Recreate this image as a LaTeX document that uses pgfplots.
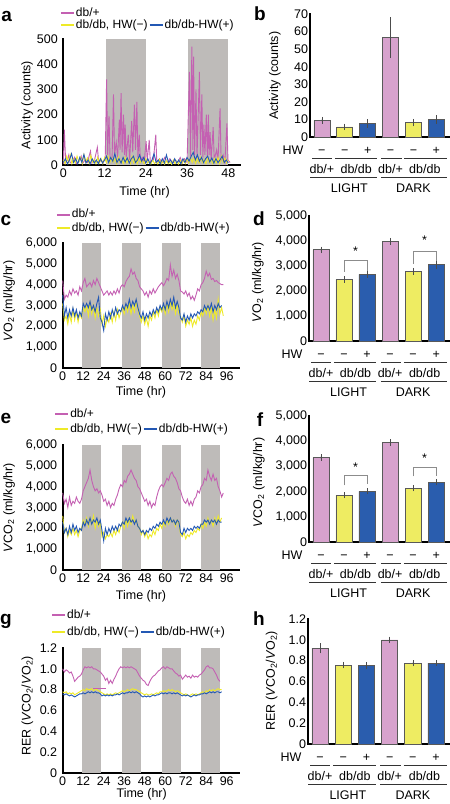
\documentclass[border=0pt]{standalone}
\usepackage{fontspec}
\setmainfont{Liberation Sans}
\usepackage{pgfplots}
\pgfplotsset{compat=1.18}

\definecolor{pinkl}{RGB}{196,96,178}
\definecolor{yell}{RGB}{238,234,40}
\definecolor{bluel}{RGB}{35,88,180}
\definecolor{pinkb}{RGB}{215,162,205}
\definecolor{yelb}{RGB}{238,236,98}
\definecolor{blueb}{RGB}{42,93,174}
\definecolor{shade}{RGB}{190,187,185}

\newcommand{\fs}{\fontsize{12.5}{15}\selectfont}
\newcommand{\sub}[1]{\textsubscript{#1}}

\pgfplotsset{
 /pgf/number format/assume math mode=true,
 /pgf/number format/1000 sep={,},
 base/.style={scale only axis, axis lines=left, axis line style={-, line width=1.7pt, line cap=rect},
   major tick length=0pt, tick label style={font=\fs}, label style={font=\fs}, clip=false, ymin=0},
 tseries/.style={base, xmin=0, xmax=103, width=176pt, height=125pt, xtick={0,12,...,96},
   yticklabel style={xshift=-2pt}, legend columns=2, legend cell align=left,
   legend style={draw=none, fill=none, font=\fontsize{12}{14}\selectfont, inner sep=0pt, column sep=0pt,
     anchor=north west},
   legend image code/.code={\draw[##1] (0pt,0pt) -- (13pt,0pt);}},
 lrow/.style n args={2}{legend style={nodes={inner sep=1pt, text height=#1, text depth=#2}}},
 bars/.style={base, xmin=-0.52, xmax=5.6, xtick={0,...,5}, xticklabels={−,−,+,−,−,+},
   xticklabel style={anchor=base, yshift=-17pt}, yticklabel style={xshift=1.5pt}, ybar,
   error bars/y dir=both, error bars/y explicit,
   error bars/error bar style={black!70, line width=0.6pt},
   error bars/error mark options={black!70, mark size=2pt, line width=0.6pt}},
 pl/.style={color=pinkl, line width=0.9pt, mark=none},
 yl/.style={color=yell, line width=0.9pt, mark=none},
 bl/.style={color=bluel, line width=0.9pt, mark=none},
 sh/.style={fill=shade, draw=none, forget plot},
 bp/.style={bar width=0.7, bar shift=0pt, draw=black!65, line width=0.6pt},
}

\newcommand{\barannot}{%
 \node[anchor=base east, font=\fs] at ([xshift=-3pt,yshift=-17pt]rel axis cs:0,0) {HW};
 \draw[line width=0.8pt, black!80] ([yshift=-21.5pt]axis cs:-0.43,0) -- ([yshift=-21.5pt]axis cs:0.43,0);
 \draw[line width=0.8pt, black!80] ([yshift=-21.5pt]axis cs:0.57,0) -- ([yshift=-21.5pt]axis cs:2.39,0);
 \draw[line width=0.8pt, black!80] ([yshift=-21.5pt]axis cs:2.6,0) -- ([yshift=-21.5pt]axis cs:3.48,0);
 \draw[line width=0.8pt, black!80] ([yshift=-21.5pt]axis cs:3.6,0) -- ([yshift=-21.5pt]axis cs:5.48,0);
 \node[anchor=base, font=\fs] at ([yshift=-36pt]axis cs:0,0) {db/+};
 \node[anchor=base, font=\fs] at ([yshift=-36pt]axis cs:1.5,0) {db/db};
 \node[anchor=base, font=\fs] at ([yshift=-36pt]axis cs:3,0) {db/+};
 \node[anchor=base, font=\fs] at ([yshift=-36pt]axis cs:4.5,0) {db/db};
 \draw[line width=0.8pt, black!80] ([yshift=-40pt]axis cs:-0.52,0) -- ([yshift=-40pt]axis cs:2.39,0);
 \draw[line width=0.8pt, black!80] ([yshift=-40pt]axis cs:2.6,0) -- ([yshift=-40pt]axis cs:5.48,0);
 \node[anchor=base, font=\fs] at ([yshift=-55pt]axis cs:1.2,0) {LIGHT};
 \node[anchor=base, font=\fs] at ([yshift=-55pt]axis cs:4,0) {DARK};
}
\newcommand{\legs}{%
 \addlegendimage{draw=pinkl, line width=2pt}\addlegendentry{db/+}
 \addlegendimage{empty legend}\addlegendentry{}
 \addlegendimage{draw=yell, line width=2pt}\addlegendentry{db/db, HW(−)}
 \addlegendimage{draw=bluel, line width=2pt}\addlegendentry{db/db-HW(+)}
}

\begin{document}
\begin{tikzpicture}
\useasboundingbox (0,0) rectangle (450pt,-804pt);

% ---------------- a ----------------
\begin{axis}[tseries, at={(63.3pt,-165pt)}, anchor=south west, width=176.7pt, height=126pt,
  xmax=51.4, ymax=500, xtick={0,12,24,36,48}, ytick={0,100,...,500},
  ylabel={Activity (counts)}, xlabel={Time (hr)},
  ylabel style={at={(axis description cs:-0.205,0.476)}, anchor=center},
  xlabel style={at={(axis description cs:0.46,0)}, anchor=base, yshift=-30.7pt},
  lrow={8pt}{2pt}, legend style={at={(axis description cs:-0.02,1.252)}}]
\addplot[sh] coordinates {(12.3,500)(24,500)} \closedcycle;
\addplot[sh] coordinates {(36.3,500)(48,500)} \closedcycle;
\addplot[pl, forget plot] coordinates {(0,5)(0.3,140)(0.7,10)(1.2,20)(1.6,40)(2,8)(2.8,15)(3.3,30)(3.8,5)(4.5,12)(5.2,35)(5.6,6)(6.3,20)(7,10)(7.9,55)(8.3,8)(9,15)(9.9,70)(10.3,10)(11,20)(11.6,8)(12.2,30)(12.6,340)(12.9,40)(13.3,195)(13.6,25)(14.2,30)(14.6,280)(14.9,40)(15.4,90)(15.8,30)(16.3,180)(16.5,60)(16.8,285)(17.1,50)(17.5,200)(17.8,40)(18,160)(18.3,30)(18.9,120)(19.3,20)(19.9,175)(20.2,50)(20.7,240)(21,60)(21.4,250)(21.7,30)(22.1,120)(22.4,20)(23,30)(23.5,10)(24.1,95)(24.4,15)(25,100)(25.3,12)(26.2,20)(26.9,120)(27.2,10)(28,25)(28.7,8)(29.5,30)(30.3,10)(31,25)(31.8,8)(32.5,20)(33.3,10)(34,30)(34.6,8)(35.3,25)(36,10)(36.7,370)(37,30)(37.4,470)(37.7,60)(37.9,430)(38.2,40)(38.6,300)(38.9,30)(39.6,370)(39.9,40)(40.3,280)(40.6,30)(40.9,160)(41.2,40)(41.6,200)(41.9,30)(42.2,200)(42.4,40)(42.7,130)(43,20)(43.6,150)(43.9,20)(44.6,60)(45,15)(45.6,225)(45.9,20)(46.5,40)(47,10)(47.6,165)(47.9,20)(48.5,10)};
\addplot[yl, forget plot] coordinates {(0,20)(0.5,5)(1,35)(1.5,10)(2,40)(2.5,5)(3,25)(3.5,8)(4,35)(4.5,12)(5,30)(5.5,5)(6,40)(6.5,10)(7,28)(7.5,6)(8,38)(8.5,10)(9,22)(9.5,5)(10,30)(10.5,8)(11,25)(11.5,5)(12,30)(12.5,10)(13,35)(13.5,8)(14,28)(14.5,12)(15,25)(15.5,5)(16,32)(16.5,10)(17,20)(17.5,6)(18,30)(18.5,8)(19,22)(19.5,5)(20,35)(20.5,8)(21,25)(21.5,5)(22,30)(22.5,10)(23,20)(23.5,5)(24,25)(24.5,8)(25,15)(25.5,4)(26,20)(26.5,6)(27,12)(27.5,4)(28,22)(28.5,5)(29,15)(29.5,3)(30,18)(30.5,5)(31,12)(31.5,3)(32,20)(32.5,5)(33,15)(33.5,4)(34,20)(34.5,5)(35,22)(35.5,6)(36,25)(36.5,8)(37,30)(37.5,10)(38,28)(38.5,6)(39,25)(39.5,8)(40,30)(40.5,10)(41,22)(41.5,5)(42,28)(42.5,8)(43,20)(43.5,5)(44,25)(44.5,8)(45,30)(45.5,6)(46,35)(46.5,10)(47,28)(47.5,8)(48,20)};
\addplot[bl, forget plot] coordinates {(0,10)(0.6,25)(1.2,5)(1.8,20)(2.4,45)(3,10)(3.6,25)(4.2,5)(4.8,30)(5.4,10)(6,42)(6.6,8)(7.2,20)(7.8,5)(8.4,25)(9,8)(9.6,20)(10.2,5)(10.8,25)(11.4,8)(12,20)(12.6,35)(13.2,10)(13.8,30)(14.4,15)(15,45)(15.6,10)(16.2,25)(16.8,8)(17.4,30)(18,12)(18.6,28)(19.2,8)(19.8,25)(20.4,35)(21,10)(21.6,20)(22.2,40)(22.8,15)(23.4,30)(24,8)(24.6,25)(25.2,5)(25.8,20)(26.4,45)(27,10)(27.6,20)(28.2,5)(28.8,25)(29.4,8)(30,40)(30.6,10)(31.2,20)(31.8,5)(32.4,25)(33,8)(33.6,20)(34.2,5)(34.8,25)(35.4,10)(36,30)(36.6,15)(37.2,35)(37.8,50)(38.4,20)(39,40)(39.6,15)(40.2,30)(40.8,10)(41.4,25)(42,35)(42.6,12)(43.2,28)(43.8,8)(44.4,25)(45,10)(45.6,20)(46.2,35)(46.8,10)(47.4,20)(48,8)};
\legs
\end{axis}

% ---------------- b ----------------
\begin{axis}[bars, at={(310pt,-137pt)}, anchor=south west, width=140pt, height=123pt,
  ymax=70, ytick={0,10,...,70}, ylabel={Activity (counts)},
  ylabel style={at={(axis description cs:-0.25,0.498)}, anchor=center}]
\addplot[bp, fill=pinkb] coordinates {(0,9.5) +- (0,0.8) (3,56.5) +- (0,10.5)};
\addplot[bp, fill=yelb] coordinates {(1,5.8) +- (0,0.7) (4,8.2) +- (0,1.0)};
\addplot[bp, fill=blueb] coordinates {(2,7.7) +- (0,1.2) (5,9.9) +- (0,1.3)};
\barannot
\end{axis}

% ---------------- c ----------------
\begin{axis}[tseries, at={(62.7pt,-368pt)}, anchor=south west,
  ymax=6000, ytick={0,1000,...,6000},
  ylabel={\textit{V}O\sub{2} (ml/kg/hr)}, xlabel={Time (hr)},
  ylabel style={at={(axis description cs:-0.305,0.536)}, anchor=center},
  xlabel style={at={(axis description cs:0.445,0)}, anchor=base, yshift=-27.7pt},
  lrow={9pt}{2.4pt}, legend style={at={(axis description cs:-0.040,1.283)}}]
\addplot[sh] coordinates {(11.4,6000)(22.7,6000)} \closedcycle;
\addplot[sh] coordinates {(34.7,6000)(46,6000)} \closedcycle;
\addplot[sh] coordinates {(58,6000)(69.3,6000)} \closedcycle;
\addplot[sh] coordinates {(81,6000)(92.2,6000)} \closedcycle;
\addplot[pl, forget plot] coordinates {(0,4200)(1,3300)(2,3500)(3,3400)(4,3700)(5,3500)(6,3800)(7,3600)(8,3700)(9,3500)(10,3900)(11,3700)(12,4100)(13,4300)(14,3900)(15,4000)(16,4100)(17,3900)(18,4200)(19,4000)(20,4300)(21,4100)(22,3900)(23,3700)(24,3500)(25,3600)(26,3700)(27,3500)(28,3650)(29,3500)(30,3700)(31,3550)(32,3800)(33,3600)(34,3900)(35,4000)(36,3900)(37,4150)(38,4300)(39,4400)(40,4750)(41,4500)(42,4600)(43,4300)(44,4200)(45,3900)(46,3800)(47,3700)(48,3500)(49,3650)(50,3400)(51,3700)(52,3550)(53,3800)(54,3600)(55,3750)(56,3900)(57,4000)(58,4100)(59,3950)(60,4100)(61,4300)(62,4200)(63,4950)(64,4400)(65,4700)(66,4300)(67,4500)(68,4200)(69,3700)(70,3650)(71,3550)(72,3700)(73,3450)(74,3600)(75,3300)(76,3450)(77,3250)(78,3500)(79,3800)(80,3700)(81,4000)(82,4100)(83,4300)(84,4650)(85,4400)(86,4550)(87,4250)(88,4300)(89,4150)(90,4200)(91,4100)(92,4050)(93,4000)(94,4000)};
\addplot[yl, forget plot] coordinates {(0,3100)(1,2300)(2,2500)(3,2100)(4,2600)(5,2200)(6,2800)(7,2300)(8,2700)(9,2200)(10,2600)(11,2400)(12,2900)(13,2700)(14,3000)(15,2500)(16,3100)(17,2600)(18,3000)(19,2400)(20,2900)(21,2500)(22,2800)(23,2100)(24,2500)(25,2000)(26,2400)(27,2200)(28,2600)(29,2200)(30,2700)(31,2300)(32,2800)(33,2400)(34,2700)(35,2900)(36,2600)(37,3000)(38,2700)(39,3100)(40,2600)(41,3000)(42,2700)(43,3200)(44,2800)(45,2500)(46,2200)(47,2500)(48,2100)(49,2400)(50,2000)(51,2500)(52,2300)(53,2700)(54,2400)(55,2800)(56,2500)(57,2900)(58,2700)(59,3000)(60,2600)(61,3100)(62,2700)(63,3200)(64,2800)(65,3100)(66,2600)(67,3000)(68,2600)(69,2500)(70,2200)(71,2500)(72,2000)(73,2300)(74,2100)(75,2400)(76,2000)(77,2300)(78,2100)(79,2500)(80,2300)(81,2700)(82,2500)(83,2900)(84,2600)(85,3000)(86,2500)(87,2900)(88,2300)(89,2800)(90,2400)(91,3300)(92,2600)(93,2900)(94,2500)};
\addplot[bl, forget plot] coordinates {(0,3500)(1,2500)(2,2900)(3,2400)(4,2800)(5,2500)(6,2900)(7,2500)(8,2800)(9,2400)(10,2700)(11,2500)(12,3100)(13,2900)(14,3100)(15,2900)(16,3200)(17,2800)(18,3000)(19,2700)(20,3100)(21,3400)(22,2400)(23,2200)(24,1800)(25,2600)(26,2300)(27,2700)(28,2400)(29,2800)(30,2500)(31,2900)(32,2600)(33,2800)(34,2700)(35,3000)(36,2800)(37,3100)(38,2900)(39,3300)(40,2900)(41,3200)(42,3000)(43,3300)(44,2900)(45,2600)(46,2400)(47,2700)(48,2300)(49,2600)(50,2400)(51,2700)(52,2500)(53,2800)(54,2600)(55,2900)(56,2700)(57,3000)(58,2800)(59,3100)(60,2800)(61,3200)(62,2900)(63,3300)(64,3000)(65,3400)(66,2900)(67,3200)(68,2900)(69,2400)(70,2300)(71,2600)(72,2200)(73,2500)(74,2300)(75,2600)(76,2400)(77,2600)(78,2500)(79,2700)(80,2600)(81,2800)(82,2700)(83,3000)(84,2800)(85,3000)(86,2800)(87,3100)(88,2700)(89,3000)(90,2800)(91,3100)(92,2900)(93,3000)};
\legs
\end{axis}

% ---------------- d ----------------
\begin{axis}[bars, at={(309pt,-341pt)}, anchor=south west, width=141pt, height=125pt,
  ymax=5000, ytick={0,1000,...,5000}, ylabel={\textit{V}O\sub{2} (ml/kg/hr)},
  ylabel style={at={(axis description cs:-0.362,0.468)}, anchor=center}]
\addplot[bp, fill=pinkb] coordinates {(0,3650) +- (0,50) (3,3990) +- (0,60)};
\addplot[bp, fill=yelb] coordinates {(1,2470) +- (0,60) (4,2790) +- (0,60)};
\addplot[bp, fill=blueb] coordinates {(2,2670) +- (0,50) (5,3050) +- (0,70)};
\draw[black!45, line width=0.7pt] (axis cs:1,2780) -- (axis cs:1,3230) -- (axis cs:2,3230) -- (axis cs:2,2800);
\draw[black!45, line width=0.7pt] (axis cs:4,3100) -- (axis cs:4,3600) -- (axis cs:5,3600) -- (axis cs:5,3200);
\node[font=\fs, yshift=-2.5pt] at (axis cs:1.5,3700) {*};
\node[font=\fs, yshift=-2.5pt] at (axis cs:4.5,4130) {*};
\barannot
\end{axis}

% ---------------- e ----------------
\begin{axis}[tseries, at={(62.7pt,-570pt)}, anchor=south west,
  ymax=6000, ytick={0,1000,...,6000},
  ylabel={\textit{V}CO\sub{2} (ml/kg/hr)}, xlabel={Time (hr)},
  ylabel style={at={(axis description cs:-0.305,0.496)}, anchor=center},
  xlabel style={at={(axis description cs:0.445,0)}, anchor=base, yshift=-29pt},
  lrow={10pt}{3pt}, legend style={at={(axis description cs:-0.049,1.307)}}]
\addplot[sh] coordinates {(11.4,6000)(22.7,6000)} \closedcycle;
\addplot[sh] coordinates {(34.7,6000)(46,6000)} \closedcycle;
\addplot[sh] coordinates {(58,6000)(69.3,6000)} \closedcycle;
\addplot[sh] coordinates {(81,6000)(92.2,6000)} \closedcycle;
\addplot[pl, forget plot] coordinates {(0,3700)(1,3200)(2,3400)(3,3000)(4,3500)(5,3100)(6,3300)(7,3200)(8,3500)(9,3300)(10,3200)(11,3400)(12,3800)(13,4000)(14,4200)(15,4400)(16,4800)(17,4300)(18,4000)(19,3800)(20,3900)(21,3700)(22,3800)(23,3600)(24,3300)(25,3400)(26,3100)(27,3300)(28,3000)(29,3200)(30,3100)(31,3400)(32,3600)(33,3900)(34,4100)(35,4000)(36,4300)(37,4200)(38,4500)(39,4600)(40,4800)(41,4600)(42,4400)(43,4300)(44,4000)(45,3900)(46,3700)(47,3500)(48,3300)(49,3400)(50,3100)(51,3300)(52,3000)(53,3200)(54,3100)(55,3500)(56,3800)(57,4000)(58,4100)(59,4000)(60,4200)(61,4400)(62,4300)(63,4600)(64,4700)(65,4500)(66,4400)(67,4200)(68,3900)(69,3800)(70,3500)(71,3300)(72,3200)(73,3400)(74,3100)(75,3300)(76,3100)(77,3400)(78,3500)(79,3800)(80,3700)(81,4000)(82,4100)(83,4400)(84,4300)(85,4800)(86,4500)(87,4300)(88,4600)(89,4300)(90,4400)(91,4000)(92,3800)(93,3500)(94,3700)};
\addplot[yl, forget plot] coordinates {(0,2600)(1,1800)(2,2000)(3,1600)(4,1900)(5,1700)(6,2000)(7,1700)(8,1900)(9,1600)(10,1900)(11,2000)(12,2400)(13,2200)(14,2500)(15,2100)(16,2500)(17,2200)(18,2600)(19,2000)(20,2400)(21,2100)(22,2300)(23,1600)(24,1800)(25,1500)(26,1700)(27,1600)(28,1800)(29,1600)(30,1900)(31,1700)(32,2000)(33,1800)(34,2100)(35,2300)(36,2000)(37,2400)(38,2100)(39,2500)(40,2200)(41,2600)(42,2300)(43,2400)(44,2100)(45,2000)(46,1700)(47,1900)(48,1600)(49,1800)(50,1500)(51,1700)(52,1600)(53,1900)(54,1700)(55,2000)(56,1900)(57,2200)(58,2000)(59,2300)(60,2100)(61,2400)(62,2200)(63,2500)(64,2300)(65,2400)(66,2100)(67,2400)(68,2200)(69,1700)(70,1600)(71,1800)(72,1500)(73,1700)(74,1600)(75,1800)(76,1700)(77,1900)(78,1800)(79,2000)(80,1900)(81,2200)(82,2000)(83,2300)(84,2100)(85,2500)(86,2200)(87,2400)(88,2100)(89,2500)(90,2200)(91,2600)(92,2300)(93,2500)};
\addplot[bl, forget plot] coordinates {(0,2300)(1,1800)(2,2000)(3,1700)(4,2100)(5,1800)(6,2200)(7,1900)(8,2100)(9,1800)(10,2000)(11,1900)(12,2300)(13,2100)(14,2400)(15,2200)(16,2500)(17,2200)(18,2400)(19,2300)(20,2500)(21,2200)(22,2400)(23,1900)(24,1400)(25,2000)(26,1700)(27,2000)(28,1800)(29,2100)(30,1900)(31,2100)(32,1900)(33,2200)(34,2100)(35,2300)(36,2200)(37,2500)(38,2300)(39,2500)(40,2300)(41,2400)(42,2200)(43,2400)(44,2100)(45,2000)(46,1800)(47,1900)(48,1700)(49,1900)(50,1800)(51,2000)(52,1900)(53,2100)(54,2000)(55,2200)(56,2100)(57,2300)(58,2200)(59,2400)(60,2200)(61,2500)(62,2300)(63,2500)(64,2300)(65,2400)(66,2200)(67,2400)(68,2300)(69,1800)(70,1700)(71,2000)(72,1800)(73,2000)(74,1900)(75,2000)(76,1900)(77,2100)(78,2000)(79,2100)(80,2000)(81,2200)(82,2200)(83,2400)(84,2300)(85,2400)(86,2200)(87,2400)(88,2300)(89,2400)(90,2200)(91,2400)(92,2300)(93,2300)};
\legs
\end{axis}

% ---------------- f ----------------
\begin{axis}[bars, at={(309pt,-542pt)}, anchor=south west, width=141pt, height=126pt,
  ymax=5000, ytick={0,1000,...,5000}, ylabel={\textit{V}CO\sub{2} (ml/kg/hr)},
  ylabel style={at={(axis description cs:-0.355,0.472)}, anchor=center}]
\addplot[bp, fill=pinkb] coordinates {(0,3350) +- (0,50) (3,3940) +- (0,60)};
\addplot[bp, fill=yelb] coordinates {(1,1865) +- (0,40) (4,2140) +- (0,50)};
\addplot[bp, fill=blueb] coordinates {(2,2010) +- (0,40) (5,2380) +- (0,50)};
\draw[black!45, line width=0.7pt] (axis cs:1,2250) -- (axis cs:1,2650) -- (axis cs:2,2650) -- (axis cs:2,2300);
\draw[black!45, line width=0.7pt] (axis cs:4,2600) -- (axis cs:4,2980) -- (axis cs:5,2980) -- (axis cs:5,2600);
\node[font=\fs, yshift=-2.5pt] at (axis cs:1.5,3050) {*};
\node[font=\fs, yshift=-2.5pt] at (axis cs:4.5,3440) {*};
\barannot
\end{axis}

% ---------------- g ----------------
\begin{axis}[tseries, at={(62.7pt,-773pt)}, anchor=south west,
  ymax=1.2, ytick={0,0.2,0.4,0.6,0.8,1,1.2}, yticklabels={0,0.2,0.4,0.6,0.8,1.0,1.2},
  ylabel={RER (\textit{V}CO\sub{2}/\textit{V}O\sub{2})}, xlabel={Time (hr)},
  ylabel style={at={(axis description cs:-0.2,0.536)}, anchor=center},
  xlabel style={at={(axis description cs:0.449,0)}, anchor=base, yshift=-24.3pt},
  lrow={11pt}{3.7pt}, legend style={at={(axis description cs:-0.067,1.334)}}]
\addplot[sh] coordinates {(11.4,1.2)(22.7,1.2)} \closedcycle;
\addplot[sh] coordinates {(34.7,1.2)(46,1.2)} \closedcycle;
\addplot[sh] coordinates {(58,1.2)(69.3,1.2)} \closedcycle;
\addplot[sh] coordinates {(81,1.2)(92.2,1.2)} \closedcycle;
\addplot[pl, forget plot] coordinates {(0,1.0)(1,0.97)(2,0.99)(3,0.98)(4,0.96)(5,0.97)(6,0.93)(7,0.88)(8,0.90)(9,0.92)(10,0.93)(11,0.95)(12,0.99)(13,1.02)(14,1.01)(15,1.02)(16,1.01)(17,1.02)(18,1.0)(19,1.0)(20,0.99)(21,0.98)(22,0.97)(23,0.95)(24,0.93)(25,0.89)(26,0.91)(27,0.86)(28,0.89)(29,0.86)(30,0.90)(31,0.93)(32,0.97)(33,1.0)(34,1.02)(35,1.01)(36,1.02)(37,1.01)(38,1.02)(39,1.01)(40,1.02)(41,1.01)(42,1.0)(43,0.99)(44,0.96)(45,0.93)(46,0.91)(47,0.89)(48,0.88)(49,0.85)(50,0.84)(51,0.88)(52,0.91)(53,0.93)(54,0.94)(55,0.96)(56,0.98)(57,0.99)(58,1.01)(59,1.02)(60,1.0)(61,1.02)(62,1.01)(63,1.0)(64,1.0)(65,0.98)(66,0.96)(67,0.95)(68,0.93)(69,0.94)(70,0.90)(71,0.92)(72,0.94)(73,0.92)(74,0.93)(75,0.91)(76,0.94)(77,0.92)(78,0.93)(79,0.92)(80,0.94)(81,0.95)(82,0.97)(83,0.99)(84,1.02)(85,1.03)(86,1.01)(87,1.01)(88,1.0)(89,0.97)(90,0.94)(91,0.90)(92,0.88)};
\addplot[yl, forget plot] coordinates {(0,0.78)(1,0.77)(2,0.78)(3,0.76)(4,0.77)(5,0.76)(6,0.77)(7,0.75)(8,0.76)(9,0.77)(10,0.78)(11,0.79)(12,0.80)(13,0.79)(14,0.81)(15,0.80)(16,0.80)(17,0.81)(18,0.79)(19,0.80)(20,0.80)(21,0.79)(22,0.78)(23,0.77)(24,0.76)(25,0.75)(26,0.76)(27,0.75)(28,0.76)(29,0.75)(30,0.76)(31,0.77)(32,0.76)(33,0.77)(34,0.78)(35,0.79)(36,0.78)(37,0.79)(38,0.80)(39,0.79)(40,0.80)(41,0.81)(42,0.80)(43,0.80)(44,0.79)(45,0.78)(46,0.77)(47,0.76)(48,0.75)(49,0.76)(50,0.75)(51,0.75)(52,0.76)(53,0.75)(54,0.76)(55,0.77)(56,0.76)(57,0.78)(58,0.78)(59,0.79)(60,0.78)(61,0.79)(62,0.80)(63,0.79)(64,0.80)(65,0.79)(66,0.78)(67,0.79)(68,0.78)(69,0.77)(70,0.76)(71,0.75)(72,0.76)(73,0.75)(74,0.74)(75,0.75)(76,0.76)(77,0.75)(78,0.76)(79,0.75)(80,0.76)(81,0.77)(82,0.78)(83,0.77)(84,0.79)(85,0.78)(86,0.80)(87,0.79)(88,0.80)(89,0.79)(90,0.80)(91,0.81)(92,0.80)(93,0.80)};
\addplot[bl, forget plot] coordinates {(0,0.76)(1,0.75)(2,0.76)(3,0.75)(4,0.74)(5,0.75)(6,0.74)(7,0.73)(8,0.74)(9,0.75)(10,0.76)(11,0.76)(12,0.77)(13,0.76)(14,0.77)(15,0.78)(16,0.77)(17,0.78)(18,0.77)(19,0.78)(20,0.77)(21,0.77)(22,0.76)(23,0.74)(24,0.75)(25,0.74)(26,0.75)(27,0.74)(28,0.75)(29,0.74)(30,0.75)(31,0.75)(32,0.76)(33,0.75)(34,0.76)(35,0.77)(36,0.76)(37,0.77)(38,0.77)(39,0.78)(40,0.77)(41,0.78)(42,0.77)(43,0.78)(44,0.77)(45,0.76)(46,0.74)(47,0.73)(48,0.74)(49,0.73)(50,0.74)(51,0.73)(52,0.74)(53,0.75)(54,0.74)(55,0.75)(56,0.75)(57,0.76)(58,0.77)(59,0.76)(60,0.77)(61,0.76)(62,0.77)(63,0.77)(64,0.76)(65,0.77)(66,0.76)(67,0.77)(68,0.76)(69,0.75)(70,0.74)(71,0.75)(72,0.74)(73,0.75)(74,0.74)(75,0.73)(76,0.74)(77,0.75)(78,0.74)(79,0.75)(80,0.75)(81,0.76)(82,0.76)(83,0.77)(84,0.76)(85,0.77)(86,0.78)(87,0.77)(88,0.78)(89,0.77)(90,0.78)(91,0.78)(92,0.77)(93,0.78)};
\addplot[pl, forget plot] coordinates {(18,0.814)(25.4,0.814)};
\legs
\end{axis}

% ---------------- h ----------------
\begin{axis}[bars, at={(308pt,-744pt)}, anchor=south west, width=142pt, height=125pt,
  ymax=1.2, ytick={0,0.2,0.4,0.6,0.8,1,1.2}, yticklabels={0,0.2,0.4,0.6,0.8,1.0,1.2},
  ylabel={RER (\textit{V}CO\sub{2}/\textit{V}O\sub{2})},
  ylabel style={at={(axis description cs:-0.256,0.506)}, anchor=center}]
\addplot[bp, fill=pinkb] coordinates {(0,0.92) +- (0,0.03) (3,1.0) +- (0,0.012)};
\addplot[bp, fill=yelb] coordinates {(1,0.757) +- (0,0.012) (4,0.776) +- (0,0.01)};
\addplot[bp, fill=blueb] coordinates {(2,0.754) +- (0,0.012) (5,0.776) +- (0,0.008)};
\barannot
\end{axis}

% panel letters
\begin{scope}[every node/.style={font=\bfseries\fontsize{19}{19}\selectfont, anchor=base}]
\node at (6.7pt,-21.7pt) {a};
\node at (260pt,-20pt) {b};
\node at (6pt,-225pt) {c};
\node at (259pt,-225pt) {d};
\node at (6pt,-423.3pt) {e};
\node at (260pt,-426pt) {f};
\node at (6pt,-624pt) {g};
\node at (259pt,-625pt) {h};
\end{scope}
\end{tikzpicture}
\end{document}
